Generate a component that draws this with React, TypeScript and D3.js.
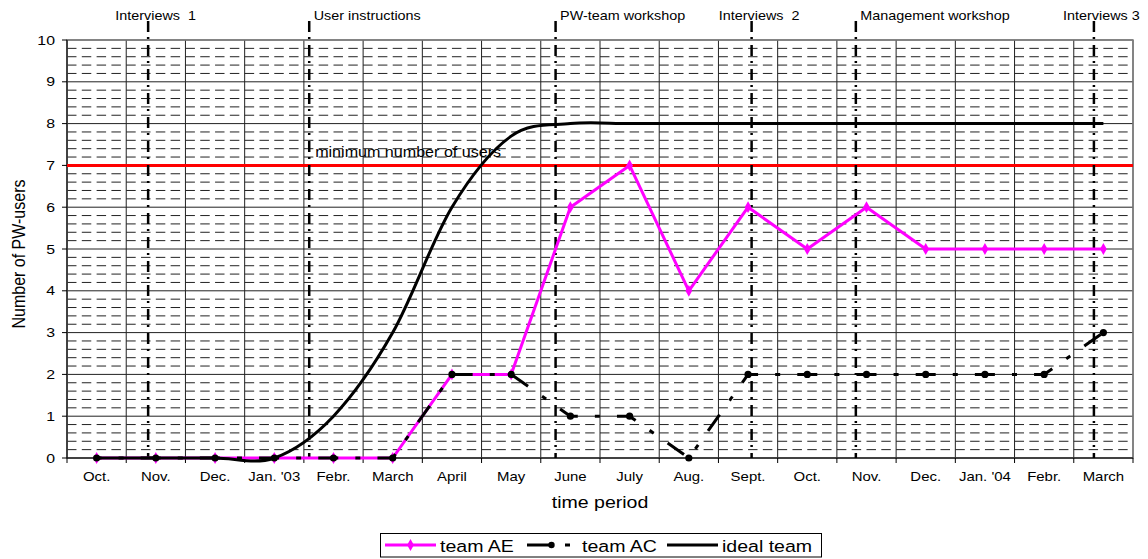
import React from "react";
import * as d3 from "d3";

// Month categories, Oct. 2002 – March 2004
const months = [
  "Oct.", "Nov.", "Dec.", "Jan. '03", "Febr.", "March", "April", "May", "June",
  "July", "Aug.", "Sept.", "Oct.", "Nov.", "Dec.", "Jan. '04", "Febr.", "March",
];

// Number of PW-users per month
const teamAE = [0, 0, 0, 0, 0, 0, 2, 2, 6, 7, 4, 6, 5, 6, 5, 5, 5, 5];
const teamAC = [0, 0, 0, 0, 0, 0, 2, 2, 1, 1, 0, 2, 2, 2, 2, 2, 2, 3];
const idealTeam = [0, 0, 0, 0, 1, 3, 6, 7.7, 8, 8, 8, 8, 8, 8, 8, 8, 8, 8];

const yTicks = [0, 1, 2, 3, 4, 5, 6, 7, 8, 9, 10];
const minimumUsers = 7;

// Project events, placed on the month axis (fractional month index)
const eventLabels = ["Interviews  1", "User instructions", "PW-team workshop", "Interviews  2", "Management workshop", "Interviews 3"];
const eventMonths = [0.87, 3.59, 7.75, 11.06, 12.82, 16.84];
const eventCentered = [true, false, false, true, false, true];

const W = 1148;
const H = 559;
const FONT = "'Liberation Sans', Arial, Helvetica, sans-serif";
const SX = 1.15; // horizontal stretch of the lettering

const margin = { left: 67, right: 15, top: 40, bottom: 101 };

function SText({ x, y, size, anchor = "start", sx = SX, children, fill = "#000" }: any) {
  return (
    <text
      transform={`translate(${x},${y}) scale(${sx},1)`}
      fontSize={size}
      fontFamily={FONT}
      textAnchor={anchor}
      fill={fill}
      style={{ whiteSpace: "pre" }}
    >
      {children}
    </text>
  );
}

export default function App() {
  const x = d3.scaleLinear().domain([-0.5, months.length - 0.5]).range([margin.left, W - margin.right]);
  const y = d3.scaleLinear().domain([0, 10]).range([H - margin.bottom, margin.top]);
  const x0 = x.range()[0], x1 = x.range()[1];
  const y0 = y.range()[0], y1 = y.range()[1];
  const cellW = x(1) - x(0);

  const idx = d3.range(months.length);
  const straight = d3.line<number>().x((i) => x(i)).y((v) => y(v));
  const lineAE = d3.line<number>().x((_, i) => x(i)).y((v) => y(v));
  const lineAC = d3.line<number>().x((_, i) => x(i)).y((v) => y(v));
  const lineIdeal = d3.line<number>().x((_, i) => x(i)).y((v) => y(v)).curve(d3.curveCardinal.tension(0));

  // dash phase for team AC: long dashes centred on the monthly points of the flat run
  const acPattern = [20, 17.1, 5, 17.1];
  const period = d3.sum(acPattern);
  let cum = 0;
  for (let i = 1; i <= 12; i++) {
    cum += Math.hypot(x(i) - x(i - 1), y(teamAC[i]) - y(teamAC[i - 1]));
  }
  const startLong = cum - acPattern[0] / 2;
  const acOffset = ((period - (startLong % period)) % period);

  const minorLevels = d3.range(0, 50).filter((i) => i % 5 !== 0).map((i) => i / 5);
  const boundaries = d3.range(months.length + 1).map((i) => i - 0.5);

  const diamond = d3.symbol().type(d3.symbolDiamond).size(40)();

  return (
    <svg width={W} height={H} style={{ position: "absolute", left: 0, top: 0, background: "#fff" }}>
      {/* minor dashed gridlines */}
      <g stroke="#222" strokeWidth={1} strokeDasharray={`${cellW / 4 * 0.64},${cellW / 4 * 0.36}`}>
        {minorLevels.map((v) => (
          <line key={v} x1={x0} x2={x1} y1={y(v)} y2={y(v)} />
        ))}
      </g>
      {/* major gridlines */}
      <g stroke="#222" strokeWidth={1}>
        {yTicks.map((v) => (
          <line key={"h" + v} x1={x0} x2={x1} y1={y(v)} y2={y(v)} />
        ))}
        {boundaries.map((b) => (
          <line key={"v" + b} x1={x(b)} x2={x(b)} y1={y1} y2={y0} />
        ))}
      </g>
      <rect x={x0} y={y1} width={x1 - x0} height={y0 - y1} fill="none" stroke="#808080" strokeWidth={1.5} />

      {/* axes */}
      <g stroke="#000" strokeWidth={1}>
        <line x1={x0} x2={x0} y1={y1} y2={y0} />
        <line x1={x0} x2={x1} y1={y0} y2={y0} />
        {yTicks.map((v) => (
          <line key={"yt" + v} x1={x0 - 5} x2={x0} y1={y(v)} y2={y(v)} />
        ))}
        {boundaries.map((b) => (
          <line key={"xt" + b} x1={x(b)} x2={x(b)} y1={y0} y2={y0 + 5} />
        ))}
      </g>
      {yTicks.map((v) => (
        <SText key={"yl" + v} x={55} y={y(v) + 4.6} size={13} anchor="end" sx={1.22}>
          {String(v)}
        </SText>
      ))}
      {months.map((m, i) => (
        <SText key={"xl" + i} x={x(i)} y={481} size={13} anchor="middle">
          {m}
        </SText>
      ))}
      <SText x={(x0 + x1) / 2} y={508} size={17} anchor="middle">
        time period
      </SText>
      <text
        transform={`translate(25,${(y0 + y1) / 2 + 5}) rotate(-90) scale(1,1.1)`}
        fontSize={16}
        fontFamily={FONT}
        textAnchor="middle"
      >
        Number of PW-users
      </text>

      {/* minimum number of users */}
      <line x1={x0} x2={x1} y1={y(minimumUsers)} y2={y(minimumUsers)} stroke="#ff0000" strokeWidth={3} />
      <SText x={x(3.69)} y={y(minimumUsers) - 8} size={14}>
        minimum number of users
      </SText>

      {/* event markers */}
      {eventMonths.map((m, i) => (
        <g key={"ev" + i}>
          <line
            x1={x(m)}
            x2={x(m)}
            y1={21}
            y2={y0}
            stroke="#000"
            strokeWidth={2.5}
            strokeDasharray="11,5,2,6"
          />
          <SText x={eventCentered[i] ? x(m) + 7.5 : x(m) + 4.5} y={20} size={12.5} anchor={eventCentered[i] ? "middle" : "start"}>
            {eventLabels[i]}
          </SText>
        </g>
      ))}

      {/* team AE */}
      <path d={lineAE(teamAE) || ""} fill="none" stroke="#ff00ff" strokeWidth={3} strokeLinejoin="round" />
      {teamAE.map((v, i) => (
        <path key={"ae" + i} d={diamond || ""} transform={`translate(${x(i)},${y(v)})`} fill="#ff00ff" />
      ))}

      {/* ideal team */}
      <path d={lineIdeal(idealTeam) || ""} fill="none" stroke="#000" strokeWidth={3} />

      {/* team AC */}
      <path
        d={lineAC(teamAC) || ""}
        fill="none"
        stroke="#000"
        strokeWidth={3}
        strokeDasharray={acPattern.join(",")}
        strokeDashoffset={acOffset}
      />
      {teamAC.map((v, i) => (
        <circle key={"ac" + i} cx={x(i)} cy={y(v)} r={3.6} fill="#000" />
      ))}

      {/* legend */}
      <g>
        <rect x={380.5} y={533.5} width={441} height={23.5} fill="#fff" stroke="#000" strokeWidth={1} />
        <line x1={385} x2={436} y1={545} y2={545} stroke="#ff00ff" strokeWidth={3} />
        <path d={diamond || ""} transform="translate(410.5,545)" fill="#ff00ff" />
        <SText x={440} y={551.5} size={17}>team AE</SText>
        <line x1={527} x2={551} y1={545} y2={545} stroke="#000" strokeWidth={3} />
        <circle cx={551.5} cy={545} r={3.2} fill="#000" />
        <line x1={565} x2={570} y1={545} y2={545} stroke="#000" strokeWidth={3} />
        <SText x={582} y={551.5} size={17}>team AC</SText>
        <line x1={667} x2={718} y1={545} y2={545} stroke="#000" strokeWidth={3} />
        <SText x={722} y={551.5} size={17}>ideal team</SText>
      </g>
    </svg>
  );
}
